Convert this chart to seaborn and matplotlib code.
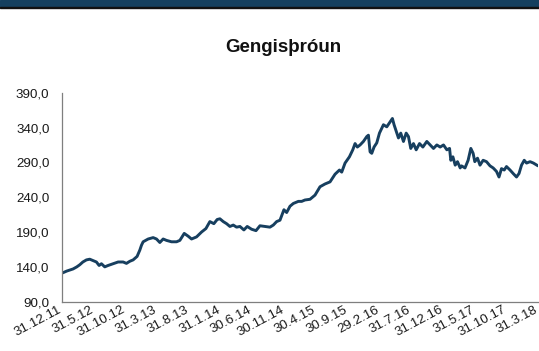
import matplotlib
matplotlib.use("Agg")
import matplotlib.pyplot as plt
import matplotlib.dates as mdates
from matplotlib.ticker import FuncFormatter
import pandas as pd
import seaborn as sns

# Exchange-rate index, readings through the period
dates = [
    "2011-12-31", "2012-01-23", "2012-02-22", "2012-03-11", "2012-03-25", "2012-04-09",
    "2012-04-26", "2012-05-12", "2012-05-28", "2012-06-13", "2012-06-26", "2012-07-07",
    "2012-07-23", "2012-08-08", "2012-09-01", "2012-09-25", "2012-10-19", "2012-11-04",
    "2012-11-20", "2012-12-06", "2012-12-25", "2013-01-07", "2013-01-15", "2013-01-23",
    "2013-02-16", "2013-03-12", "2013-03-28", "2013-04-13", "2013-04-29", "2013-05-15",
    "2013-06-08", "2013-07-02", "2013-07-18", "2013-08-08", "2013-08-27", "2013-09-12",
    "2013-10-06", "2013-10-30", "2013-11-20", "2013-12-09", "2013-12-28", "2014-01-13",
    "2014-01-26", "2014-02-11", "2014-02-27", "2014-03-15", "2014-03-31", "2014-04-16",
    "2014-05-02", "2014-05-21", "2014-06-06", "2014-06-27", "2014-07-18", "2014-08-06",
    "2014-08-30", "2014-09-23", "2014-10-09", "2014-10-25", "2014-11-10", "2014-11-29",
    "2014-12-12", "2014-12-28", "2015-01-13", "2015-02-06", "2015-02-22", "2015-03-10",
    "2015-04-03", "2015-04-27", "2015-05-21", "2015-06-14", "2015-07-08", "2015-08-01",
    "2015-08-22", "2015-09-02", "2015-09-18", "2015-10-09", "2015-10-25", "2015-11-05",
    "2015-11-16", "2015-11-29", "2015-12-15", "2015-12-31", "2016-01-08", "2016-01-16",
    "2016-01-24", "2016-02-04", "2016-02-17", "2016-03-01", "2016-03-12", "2016-03-20",
    "2016-04-05", "2016-04-21", "2016-05-02", "2016-05-10", "2016-05-23", "2016-05-31",
    "2016-06-11", "2016-06-24", "2016-07-07", "2016-07-18", "2016-07-29", "2016-08-11",
    "2016-08-24", "2016-09-09", "2016-09-25", "2016-10-14", "2016-10-30", "2016-11-15",
    "2016-12-01", "2016-12-17", "2017-01-02", "2017-01-18", "2017-01-31", "2017-02-06",
    "2017-02-16", "2017-02-27", "2017-03-10", "2017-03-23", "2017-03-29", "2017-04-15",
    "2017-04-30", "2017-05-13", "2017-05-24", "2017-06-01", "2017-06-14", "2017-06-26",
    "2017-07-11", "2017-07-27", "2017-08-13", "2017-08-28", "2017-09-13", "2017-09-25",
    "2017-10-07", "2017-10-20", "2017-10-31", "2017-11-17", "2017-12-02", "2017-12-18",
    "2017-12-30", "2018-01-11", "2018-01-24", "2018-02-04", "2018-02-21", "2018-03-09",
    "2018-03-25", "2018-03-31",
]
values = [
    131, 134, 137, 140, 143, 147,
    150, 151, 149, 147, 142, 144.5,
    140, 142, 144.5, 147, 147, 145,
    148, 150, 155, 164, 171, 176,
    180, 182, 180, 175, 180, 178,
    176, 176, 178, 188, 184, 180,
    183, 190, 195, 205, 202, 208,
    209, 205, 202, 198, 200, 197,
    198, 193, 198, 194, 192, 199,
    198, 197, 200, 205, 207, 222,
    218, 227, 231, 234, 234, 236,
    237, 243, 255, 259, 262, 273,
    279, 276, 289, 298, 308, 317,
    312, 315, 320, 327, 329, 305,
    303, 312, 318, 332, 339, 344,
    341, 348, 353, 344, 332, 325,
    332, 320, 332, 327, 310, 317,
    308, 317, 312, 320, 315, 310,
    315, 312, 315, 308, 310, 293,
    298, 286, 291, 282, 285, 282,
    293, 310, 303, 291, 296, 286,
    293, 291, 285, 282, 277, 269,
    281, 279, 284, 279, 274, 269,
    274, 286, 293, 289, 291, 289,
    286, 285,
]

tick_dates = [
    "2011-12-31", "2012-05-31", "2012-10-31", "2013-03-31", "2013-08-31", "2014-01-31",
    "2014-06-30", "2014-11-30", "2015-04-30", "2015-09-30", "2016-02-29", "2016-07-31",
    "2016-12-31", "2017-05-31", "2017-10-31", "2018-03-31",
]
tick_labels = [
    "31.12.11", "31.5.12", "31.10.12", "31.3.13", "31.8.13", "31.1.14",
    "30.6.14", "30.11.14", "30.4.15", "30.9.15", "29.2.16", "31.7.16",
    "31.12.16", "31.5.17", "31.10.17", "31.3.18",
]
y_ticks = [90, 140, 190, 240, 290, 340, 390]

title = "Gengisþróun"

df = pd.DataFrame({"date": pd.to_datetime(dates), "value": values})

sns.set_style("white")
plt.rcParams["font.family"] = ["Liberation Sans", "DejaVu Sans"]

fig = plt.figure(figsize=(5.39, 3.51), dpi=100)

# Header band across the top of the figure
fig.patches.append(plt.Rectangle((0, 1 - 6.5 / 351), 1, 6.5 / 351,
                                 transform=fig.transFigure, color="#15405f", zorder=0))
fig.patches.append(plt.Rectangle((0, 1 - 8 / 351), 1, 1.5 / 351,
                                 transform=fig.transFigure, color="#111111", zorder=0))

ax = fig.add_axes([62 / 539, 1 - 301.7 / 351, 476 / 539, 209 / 351])
sns.lineplot(data=df, x="date", y="value", ax=ax, color="#173f5f",
             linewidth=2.1, solid_joinstyle="round")

ax.set_ylim(90, 390)
ax.set_yticks(y_ticks)
ax.yaxis.set_major_formatter(FuncFormatter(lambda v, p: f"{v:.1f}".replace(".", ",")))

tick_dt = pd.to_datetime(tick_dates)
tick_num = mdates.date2num(tick_dt.to_pydatetime())
ax.set_xlim(tick_num[0], tick_num[-1])
ax.set_xticks(tick_num)
ax.set_xticklabels([""] * len(tick_num))

# Slanted date labels, right end tucked under each tick
for xnum, lab in zip(tick_num, tick_labels):
    ax.annotate(lab, xy=(xnum, 0), xycoords=ax.get_xaxis_transform(),
                xytext=(-4, -2), textcoords="offset pixels",
                rotation=28, rotation_mode="anchor", ha="right", va="top",
                fontsize=9.6, color="#1a1a1a", annotation_clip=False)

ax.set_xlabel("")
ax.set_ylabel("")
for side in ("top", "right"):
    ax.spines[side].set_visible(False)
for side in ("left", "bottom"):
    ax.spines[side].set_color("#7f7f7f")
    ax.spines[side].set_linewidth(0.9)

ax.tick_params(axis="both", which="major", direction="out", length=4, width=0.9,
               color="#7f7f7f", labelsize=9.6, labelcolor="#1a1a1a")
ax.tick_params(axis="y", pad=5)

fig.text(283 / 539, 1 - 48 / 351, title, ha="center", va="center",
         fontsize=13.5, fontweight="bold", color="#111111")

fig.savefig("out.png", dpi=100)
